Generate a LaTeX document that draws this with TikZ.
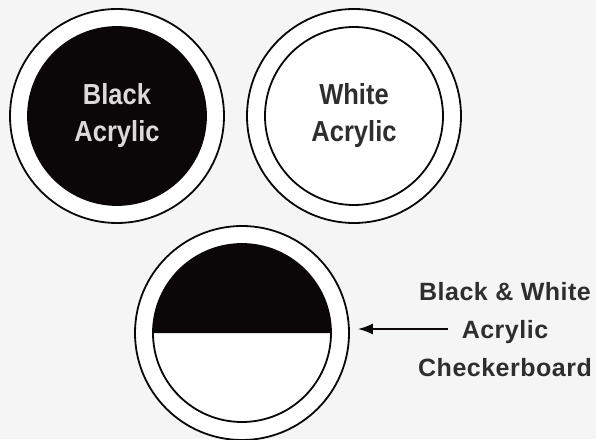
\documentclass[tikz,border=0pt]{standalone}
\usepackage{fontspec}
\newfontfamily\discfont[FakeStretch=0.88]{Liberation Sans}
\newfontfamily\notefont[LetterSpace=2]{Liberation Sans}
\usepackage{xcolor}
\definecolor{paper}{HTML}{F5F5F5}
\definecolor{inkdark}{HTML}{0B0607}
\definecolor{inkgray}{HTML}{2E2E2E}
\definecolor{inklight}{HTML}{DADADA}
\usetikzlibrary{arrows.meta, positioning}
\tikzset{
  outerring/.style={circle, draw=inkdark, line width=1.8pt, fill=white,
                    minimum size=214pt, inner sep=0pt},
  innerring/.style={circle, draw=inkdark, line width=1.8pt,
                    minimum size=178pt, inner sep=0pt},
  disctext/.style={font=\discfont\bfseries\fontsize{29}{37}\selectfont, align=center},
  notetext/.style={font=\notefont\bfseries\fontsize{25}{38}\selectfont, align=center},
}

\begin{document}
\begin{tikzpicture}[x=1pt, y=1pt]
  \fill[paper] (0,0) rectangle (596,439);
  \useasboundingbox (0,0) rectangle (596,439);

  % Black acrylic
  \node[outerring] (blackring) at (117,323) {};
  \node[innerring, fill=inkdark, disctext, text=inklight] (blackdisc)
    at (blackring.center) {Black\\Acrylic};

  % White acrylic
  \node[outerring] (whitering) at (354,323) {};
  \node[innerring, disctext, text=inkgray] (whitedisc)
    at (whitering.center) {White\\Acrylic};

  % Checkerboard: top half black
  \node[outerring] (checkring) at (242,106) {};
  \node[innerring] (checkdisc) at (checkring.center) {};
  \fill[inkdark] (checkdisc.center) ++(-89,0) arc[start angle=180, end angle=0, radius=89] -- cycle;

  % Label and arrow
  \node[notetext, text=inkgray] (checknote) at (505,109) {Black \& White\\Acrylic\\Checkerboard};
  \coordinate (arrowfrom) at (448,110);
  \draw[inkdark, line width=1.8pt, -{Latex[length=15pt, width=11pt]}, shorten >=8pt]
    (arrowfrom) -- (checkring.east |- arrowfrom);
\end{tikzpicture}
\end{document}
